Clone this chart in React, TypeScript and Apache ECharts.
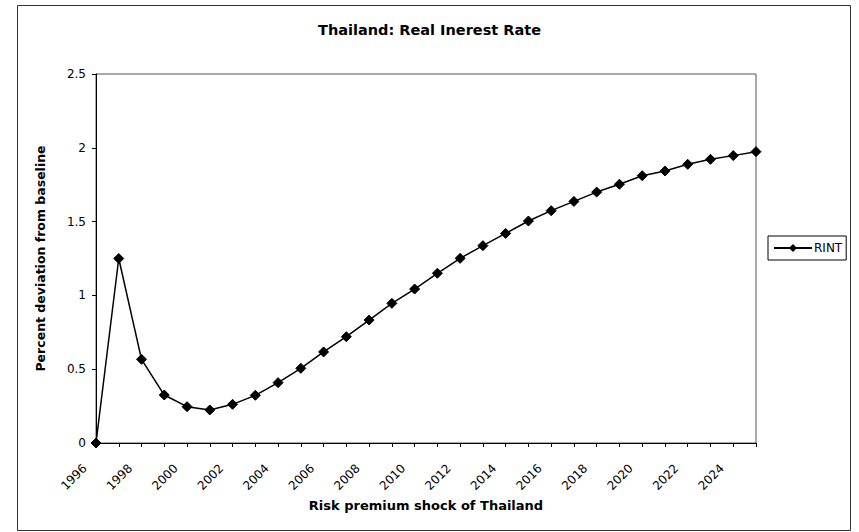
import React, { useEffect, useRef } from "react";
import * as echarts from "echarts";

const years: string[] = [
  "1996", "1997", "1998", "1999", "2000", "2001", "2002", "2003", "2004", "2005",
  "2006", "2007", "2008", "2009", "2010", "2011", "2012", "2013", "2014", "2015",
  "2016", "2017", "2018", "2019", "2020", "2021", "2022", "2023", "2024", "2025",
];
const rint: number[] = [
  0, 1.25, 0.567, 0.325, 0.246, 0.224, 0.262, 0.323, 0.409, 0.506,
  0.617, 0.72, 0.833, 0.946, 1.043, 1.15, 1.251, 1.337, 1.42, 1.504,
  1.574, 1.637, 1.70, 1.753, 1.811, 1.843, 1.888, 1.922, 1.947, 1.974,
];
const yTicks = { min: 0, max: 2.5, interval: 0.5 };
const titleText = "Thailand: Real Inerest Rate";
const xName = "Risk premium shock of Thailand";
const yName = "Percent deviation from baseline";
const seriesName = "RINT";

const FONT = "'DejaVu Sans', 'Liberation Sans', Arial, sans-serif";

export default function App() {
  const ref = useRef<HTMLDivElement>(null);
  useEffect(() => {
    if (!ref.current) return;
    const chart = echarts.init(ref.current, null, { renderer: "svg" });
    chart.setOption({
      animation: false,
      backgroundColor: "#ffffff",
      textStyle: { fontFamily: FONT, color: "#000" },
      title: {
        text: titleText,
        left: "center",
        top: 17,
        textStyle: { fontFamily: FONT, fontSize: 14.5, fontWeight: "bold", color: "#000" },
      },
      graphic: [
        {
          type: "rect",
          shape: { x: 17.5, y: 5.5, width: 833, height: 525 },
          style: { fill: "none", stroke: "#333", lineWidth: 1 },
          silent: true,
          z: -1,
        },
      ],
      legend: {
        show: true,
        left: 768,
        top: 236,
        orient: "vertical",
        data: [seriesName],
        borderColor: "#000",
        borderWidth: 1,
        padding: [6, 4, 6, 5],
        itemWidth: 38,
        itemHeight: 10,
        itemGap: 2,
        textStyle: { fontFamily: FONT, fontSize: 12, color: "#000", padding: [0, 0, 0, -3] },
      },
      grid: {
        left: 96,
        right: 103,
        top: 74,
        bottom: 89,
        show: true,
        borderColor: "#555",
        borderWidth: 1,
        containLabel: false,
      },
      xAxis: {
        type: "category",
        data: years,
        boundaryGap: false,
        name: xName,
        nameLocation: "middle",
        nameGap: 55,
        nameTextStyle: { fontFamily: FONT, fontSize: 13, fontWeight: "bold", color: "#000" },
        axisLine: { show: true, lineStyle: { color: "#000", width: 1 } },
        axisTick: { show: true, interval: 0, length: 4, lineStyle: { color: "#000" } },
        axisLabel: {
          interval: 1,
          rotate: 45,
          margin: 12,
          padding: [0, 16, 0, 0],
          fontFamily: FONT,
          fontSize: 12,
          color: "#000",
        },
        splitLine: { show: false },
      },
      yAxis: {
        type: "value",
        min: yTicks.min,
        max: yTicks.max,
        interval: yTicks.interval,
        name: yName,
        nameLocation: "middle",
        nameGap: 49,
        nameTextStyle: { fontFamily: FONT, fontSize: 12.5, fontWeight: "bold", color: "#000" },
        axisLine: { show: true, lineStyle: { color: "#000", width: 1 } },
        axisTick: { show: true, length: 4, lineStyle: { color: "#000" } },
        axisLabel: { margin: 10, fontFamily: FONT, fontSize: 12, color: "#000" },
        splitLine: { show: false },
      },
      series: [
        {
          name: seriesName,
          type: "line",
          data: rint,
          symbol: "diamond",
          symbolSize: 10,
          showAllSymbol: true,
          lineStyle: { color: "#000", width: 1.5 },
          itemStyle: { color: "#000", borderColor: "#000" },
          clip: false,
        },
      ],
    });
    return () => chart.dispose();
  }, []);
  return <div ref={ref} style={{ width: 859, height: 532, position: "absolute", left: 0, top: 0 }} />;
}
